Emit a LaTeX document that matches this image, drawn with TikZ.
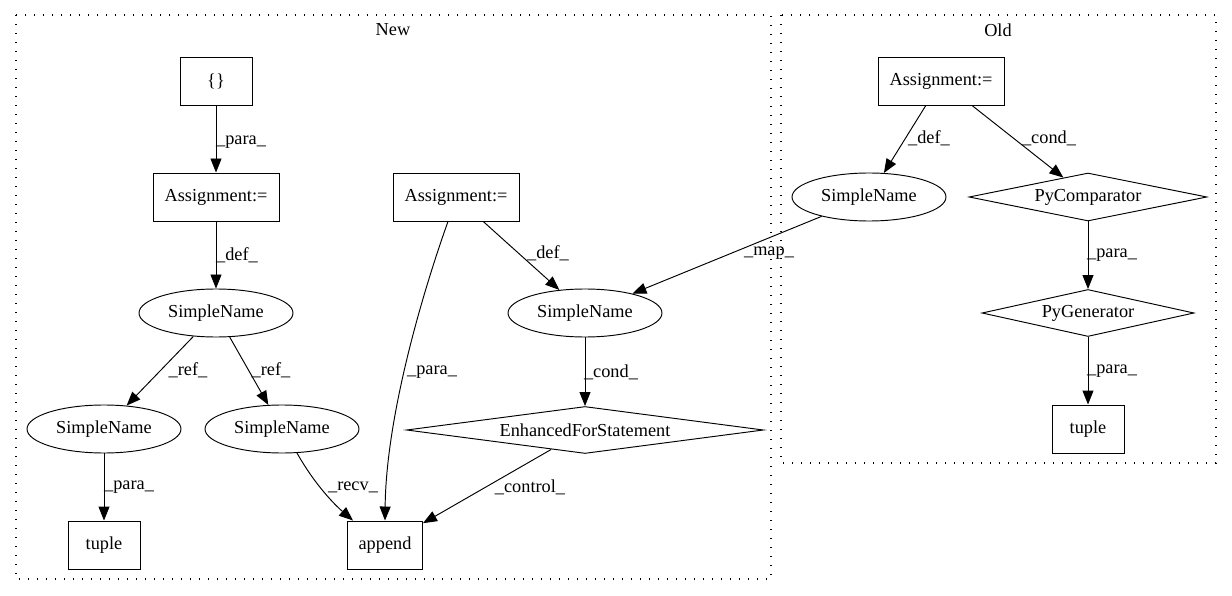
\documentclass[tikz,border=0pt]{standalone}
\usepackage{fontspec}
\setmainfont{Liberation Serif}
\usetikzlibrary{arrows.meta,shapes.geometric}
\tikzset{
  base/.style={draw=black,line width=0.95pt,inner sep=1pt,font=\fontsize{18.3}{22}\selectfont},
  boxnode/.style={base,rectangle,minimum height=48pt},
  ellnode/.style={base,ellipse,minimum width=154pt,minimum height=48pt},
  dianode/.style={base,diamond,inner sep=1pt},
  lbl/.style={font=\fontsize{18.3}{22}\selectfont,inner sep=0pt},
  edge/.style={line width=0.95pt,-{Triangle[length=14pt,width=11pt]}},
  cluster/.style={line width=1.3pt,dash pattern=on 1.3pt off 7.7pt},
}
\begin{document}
\begin{tikzpicture}[x=1pt,y=-1pt]
\useasboundingbox (0,0) rectangle (1232,596);
% clusters
\draw[cluster] (16,15) rectangle (771,579);
\node[lbl] (newlbl) at (393,30) {New};
\draw[cluster] (781,15) rectangle (1216,463);
\node[lbl] (oldlbl) at (998,30) {Old};
% New nodes
\node[boxnode,minimum width=72pt] (br) at (216,81) {\{\}};
\node[boxnode,minimum width=126pt] (a1) at (216,197) {Assignment:=};
\node[boxnode,minimum width=126pt] (am) at (456,197) {Assignment:=};
\node[ellnode] (snt) at (216,313) {SimpleName};
\node[ellnode] (snm) at (585,313) {SimpleName};
\node[ellnode] (snl) at (104,429) {SimpleName};
\node[ellnode] (snr) at (282,429) {SimpleName};
\node[dianode,minimum width=357pt,minimum height=47pt,aspect=7.6] (efs) at (585,430) {EnhancedForStatement};
\node[boxnode,minimum width=72pt] (tn) at (104,545) {tuple};
\node[boxnode,minimum width=75pt] (ap) at (385,545) {append};
% Old nodes
\node[boxnode,minimum width=126pt] (ao) at (941,81) {Assignment:=};
\node[ellnode] (sno) at (869,197) {SimpleName};
\node[dianode,minimum width=238pt,minimum height=48pt,aspect=5] (pc) at (1088,197) {PyComparator};
\node[dianode,minimum width=212pt,minimum height=47pt,aspect=4.5] (pg) at (1088,313) {PyGenerator};
\node[boxnode,minimum width=72pt] (to) at (1088,429) {tuple};
% edges New
\draw[edge] (br) -- (a1);
\node[lbl] (l1) at (241,142) {\_para\_};
\draw[edge] (a1) -- (snt);
\node[lbl] (l2) at (237,255) {\_def\_};
\draw[edge] (snt) -- (snl);
\node[lbl] (l3) at (188,370) {\_ref\_};
\draw[edge] (snt) -- (snr);
\node[lbl] (l4) at (271,370) {\_ref\_};
\draw[edge] (snl) -- (tn);
\node[lbl] (l5) at (129,487) {\_para\_};
\draw[edge] (snr.-58) .. controls (315,485) and (335,505) .. ([xshift=-32pt]ap.north);
\node[lbl] (l6) at (353,487) {\_recv\_};
\draw[edge] ([xshift=-8pt]am.south) .. controls (420,300) and (386,420) .. (ap.north);
\node[lbl] (l7) at (432,372) {\_para\_};
\draw[edge] (am) -- (snm);
\node[lbl] (l8) at (548,253) {\_def\_};
\draw[edge] (snm) -- (efs);
\node[lbl] (l9) at (611,372) {\_cond\_};
\draw[edge] (efs) -- (ap);
\node[lbl] (l10) at (530,487) {\_control\_};
\draw[edge] (sno) -- (snm);
\node[lbl] (l11) at (769,253) {\_map\_};
% edges Old
\draw[edge] (ao) -- (sno);
\node[lbl] (l12) at (929,138) {\_def\_};
\draw[edge] (ao) -- (pc);
\node[lbl] (l13) at (1049,138) {\_cond\_};
\draw[edge] (pc) -- (pg);
\node[lbl] (l14) at (1112,255) {\_para\_};
\draw[edge] (pg) -- (to);
\node[lbl] (l15) at (1112,371) {\_para\_};
\end{tikzpicture}
\end{document}
